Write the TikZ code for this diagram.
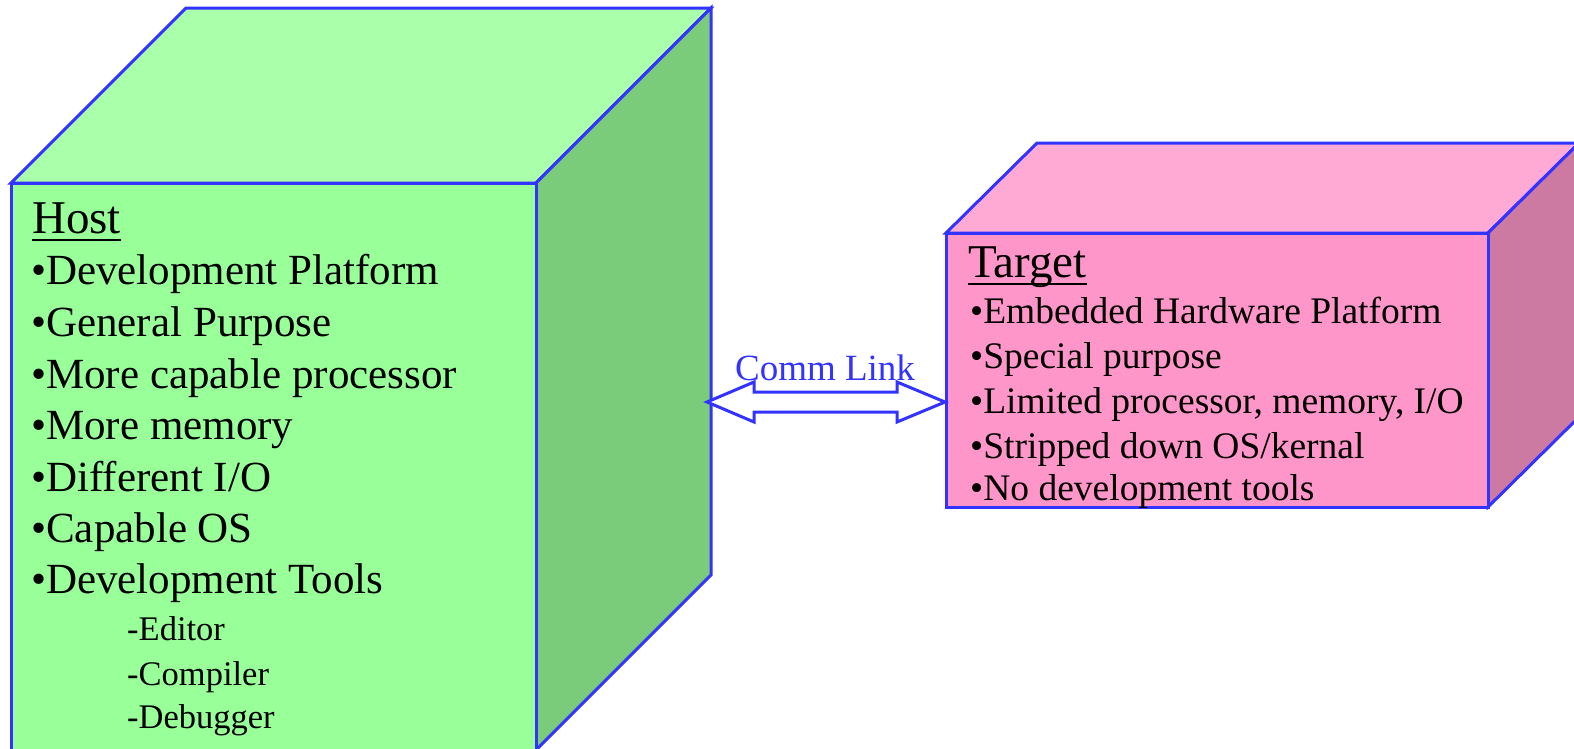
\documentclass[tikz,border=0pt]{standalone}
\usepackage{fontspec}
\setmainfont{Liberation Serif}
\usetikzlibrary{calc}
\definecolor{edgeblue}{HTML}{3333FF}
\definecolor{hostfront}{HTML}{99FF99}
\definecolor{hosttop}{HTML}{AAFFAA}
\definecolor{hostside}{HTML}{7ACC7A}
\definecolor{tgtfront}{HTML}{FF96C9}
\definecolor{tgttop}{HTML}{FFAAD4}
\definecolor{tgtside}{HTML}{CC7AA1}
\begin{document}
\begin{tikzpicture}[x=1pt,y=-1pt,
  face/.style={draw=edgeblue, line width=3pt, line join=miter},
  titletext/.style={anchor=base west, inner sep=0pt, font=\fontsize{47}{52}\selectfont},
  hostitem/.style={anchor=base west, inner sep=0pt, font=\fontsize{43}{50}\selectfont},
  hostsub/.style={anchor=base west, inner sep=0pt, font=\fontsize{34.5}{40}\selectfont},
  tgtitem/.style={anchor=base west, inner sep=0pt, font=\fontsize{37.5}{44}\selectfont},
  uline/.style={line width=2.5pt, black},
  linkarrow/.style={draw=edgeblue, fill=white, line width=3pt, line join=miter}]
\useasboundingbox (0,0) rectangle (1574,748);
\clip (0,0) rectangle (1574,748);

% Host cube
\coordinate (hA) at (11,183);
\coordinate (hB) at (536,183);
\coordinate (hC) at (536,750);
\coordinate (hD) at (11,750);
\filldraw[face, fill=hosttop] (hA) -- ($(hA)+(175,-175)$) -- ($(hB)+(175,-175)$) -- (hB) -- cycle;
\filldraw[face, fill=hostside] (hB) -- ($(hB)+(175,-175)$) -- ($(hC)+(175,-175)$) -- (hC) -- cycle;
\filldraw[face, fill=hostfront] (hA) -- (hB) -- (hC) -- (hD) -- cycle;

% Target cube
\coordinate (tA) at (946,233);
\coordinate (tB) at (1488,233);
\coordinate (tC) at (1488,507);
\coordinate (tD) at (946,507);
\filldraw[face, fill=tgttop] (tA) -- ($(tA)+(91,-90)$) -- ($(tB)+(91,-90)$) -- (tB) -- cycle;
\filldraw[face, fill=tgtside] (tB) -- ($(tB)+(91,-90)$) -- ($(tC)+(91,-90)$) -- (tC) -- cycle;
\filldraw[face, fill=tgtfront] (tA) -- (tB) -- (tC) -- (tD) -- cycle;

% Comm link
\coordinate (L) at (707,402);
\coordinate (R) at (945,402);
\filldraw[linkarrow] (L) -- ($(L)+(47,-20)$) -- ($(L)+(47,-10)$) -- ($(R)+(-48,-10)$)
  -- ($(R)+(-48,-20)$) -- (R) -- ($(R)+(-48,20)$) -- ($(R)+(-48,10)$)
  -- ($(L)+(47,10)$) -- ($(L)+(47,20)$) -- cycle;
\node[anchor=base, inner sep=0pt, text=edgeblue, font=\fontsize{37}{44}\selectfont] (linklabel) at (825,380) {Comm Link};

% Host text
\node[titletext] (hosttitle) at (32,233) {Host};
\draw[uline] ([yshift=-7pt]hosttitle.base west) -- ([yshift=-7pt]hosttitle.base east);
\node[hostitem] (h1) at (31,284) {•Development Platform};
\node[hostitem] (h2) at (31,336) {•General Purpose};
\node[hostitem] (h3) at (31,388) {•More capable processor};
\node[hostitem] (h4) at (31,439) {•More memory};
\node[hostitem] (h5) at (31,491) {•Different I/O};
\node[hostitem] (h6) at (31,542) {•Capable OS};
\node[hostitem] (h7) at (31,593) {•Development Tools};
\node[hostsub] (h8) at (127,640) {-Editor};
\node[hostsub] (h9) at (127,685) {-Compiler};
\node[hostsub] (h10) at (127,728) {-Debugger};

% Target text
\node[titletext] (tgttitle) at (968,277) {Target};
\draw[uline] ([yshift=-7pt]tgttitle.base west) -- ([yshift=-7pt]tgttitle.base east);
\node[tgtitem] (t1) at (970,323) {•Embedded Hardware Platform};
\node[tgtitem] (t2) at (970,368) {•Special purpose};
\node[tgtitem] (t3) at (970,413) {•Limited processor, memory, I/O};
\node[tgtitem] (t4) at (970,458) {•Stripped down OS/kernal};
\node[tgtitem] (t5) at (970,500) {•No development tools};
\end{tikzpicture}
\end{document}
